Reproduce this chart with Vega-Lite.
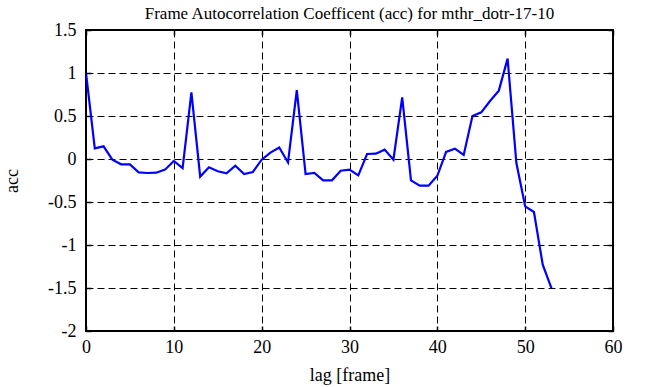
{
  "$schema": "https://vega.github.io/schema/vega-lite/v6.json",
  "width": 527,
  "height": 301,
  "autosize": "none",
  "padding": {"left": 86, "top": 30, "right": 38, "bottom": 56},
  "background": "white",
  "title": {"text": "Frame Autocorrelation Coefficent (acc) for mthr_dotr-17-10", "font": "Liberation Serif", "fontSize": 17, "fontWeight": "normal", "color": "black", "offset": -2, "anchor": "middle"},
  "config": {
    "font": "Liberation Serif",
    "view": {"stroke": "black", "strokeWidth": 2},
    "axis": {"labelFont": "Liberation Serif", "titleFont": "Liberation Serif", "labelFontSize": 18, "titleFontSize": 18, "titleFontWeight": "normal", "labelColor": "black", "titleColor": "black", "domain": false, "tickColor": "black", "tickWidth": 1.5, "gridColor": "black", "gridDash": [7, 4], "gridWidth": 1, "gridOpacity": 1}
  },
  "data": {"values": [
    {"lag": 0, "acc": 1.0}, {"lag": 1, "acc": 0.124}, {"lag": 2, "acc": 0.147}, {"lag": 3, "acc": -0.008},
    {"lag": 4, "acc": -0.062}, {"lag": 5, "acc": -0.062}, {"lag": 6, "acc": -0.155}, {"lag": 7, "acc": -0.163},
    {"lag": 8, "acc": -0.159}, {"lag": 9, "acc": -0.124}, {"lag": 10, "acc": -0.023}, {"lag": 11, "acc": -0.105},
    {"lag": 12, "acc": 0.775}, {"lag": 13, "acc": -0.205}, {"lag": 14, "acc": -0.097}, {"lag": 15, "acc": -0.143},
    {"lag": 16, "acc": -0.167}, {"lag": 17, "acc": -0.078}, {"lag": 18, "acc": -0.174}, {"lag": 19, "acc": -0.151},
    {"lag": 20, "acc": -0.008}, {"lag": 21, "acc": 0.074}, {"lag": 22, "acc": 0.133}, {"lag": 23, "acc": -0.04},
    {"lag": 24, "acc": 0.80}, {"lag": 25, "acc": -0.175}, {"lag": 26, "acc": -0.163}, {"lag": 27, "acc": -0.248},
    {"lag": 28, "acc": -0.248}, {"lag": 29, "acc": -0.136}, {"lag": 30, "acc": -0.124}, {"lag": 31, "acc": -0.19},
    {"lag": 32, "acc": 0.058}, {"lag": 33, "acc": 0.062}, {"lag": 34, "acc": 0.109}, {"lag": 35, "acc": -0.008},
    {"lag": 36, "acc": 0.717}, {"lag": 37, "acc": -0.248}, {"lag": 38, "acc": -0.31}, {"lag": 39, "acc": -0.31},
    {"lag": 40, "acc": -0.195}, {"lag": 41, "acc": 0.083}, {"lag": 42, "acc": 0.12}, {"lag": 43, "acc": 0.047},
    {"lag": 44, "acc": 0.5}, {"lag": 45, "acc": 0.543}, {"lag": 46, "acc": 0.674}, {"lag": 47, "acc": 0.795},
    {"lag": 48, "acc": 1.167}, {"lag": 49, "acc": -0.047}, {"lag": 50, "acc": -0.55}, {"lag": 51, "acc": -0.616},
    {"lag": 52, "acc": -1.229}, {"lag": 53, "acc": -1.504}
  ]},
  "layer": [
    {
      "mark": {"type": "line", "color": "#0000ff", "strokeWidth": 2.2, "clip": true},
      "encoding": {
        "x": {"field": "lag", "type": "quantitative", "scale": {"domain": [0, 60], "nice": false, "zero": false},
          "axis": {"orient": "bottom", "title": "lag [frame]", "values": [0, 10, 20, 30, 40, 50, 60], "grid": true, "tickSize": -5, "labelPadding": 12, "titlePadding": 10, "labelExpr": "datum.value + ''", "labelFlush": false}},
        "y": {"field": "acc", "type": "quantitative", "scale": {"domain": [-2, 1.5], "nice": false, "zero": false},
          "axis": {"orient": "left", "title": "acc", "values": [-2, -1.5, -1, -0.5, 0, 0.5, 1, 1.5], "grid": true, "tickSize": -5, "labelPadding": 15, "titlePadding": 26, "labelExpr": "datum.value + ''", "labelFlush": false}}
      }
    },
    {
      "mark": {"type": "line", "opacity": 0},
      "encoding": {
        "x": {"field": "lag", "type": "quantitative", "axis": {"orient": "top", "title": null, "labels": false, "values": [0, 10, 20, 30, 40, 50, 60], "grid": false, "tickSize": -5}},
        "y": {"field": "acc", "type": "quantitative", "axis": {"orient": "right", "title": null, "labels": false, "values": [-2, -1.5, -1, -0.5, 0, 0.5, 1, 1.5], "grid": false, "tickSize": -5}}
      }
    }
  ],
  "resolve": {"axis": {"x": "independent", "y": "independent"}}
}
